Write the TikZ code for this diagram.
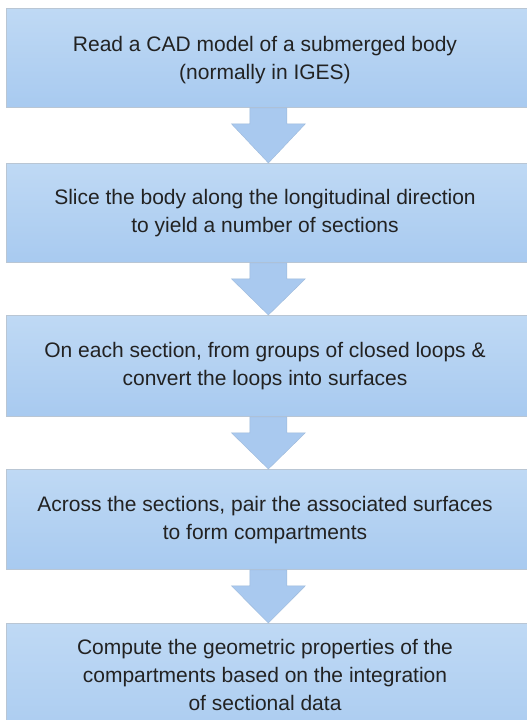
\documentclass[tikz,border=0pt]{standalone}
\usepackage{fontspec}
\setmainfont{Liberation Sans}
\usetikzlibrary{calc}
\definecolor{boxtop}{HTML}{BFD9F4}
\definecolor{boxbot}{HTML}{A8CAF0}
\definecolor{boxline}{HTML}{B9C6D4}
\definecolor{arrowfill}{HTML}{A9C9EF}
\definecolor{arrowline}{HTML}{9DB9DA}
\definecolor{txt}{HTML}{222222}
\tikzset{
  stepbox/.style={rectangle, minimum width=524pt, minimum height=100pt,
    inner sep=0pt, top color=boxtop, bottom color=boxbot, draw=boxline,
    line width=0.8pt, anchor=north west},
  steptext/.style={text=txt, font=\fontsize{21}{28}\selectfont, align=center},
  flowarrow/.style={fill=arrowfill, draw=arrowline, line width=0.4pt, line join=miter}
}
\newcommand{\flowarrow}[2]{%
  \path[flowarrow]
    ($(#1.south)+(-18.5pt,0)$) -- ($(#1.south)+(-18.5pt,-16pt)$)
    -- ($(#1.south)+(-37pt,-16pt)$) -- (#2.north)
    -- ($(#1.south)+(37pt,-16pt)$) -- ($(#1.south)+(18.5pt,-16pt)$)
    -- ($(#1.south)+(18.5pt,0)$) -- cycle;}
\begin{document}
\begin{tikzpicture}[x=1pt,y=-1pt]
  \useasboundingbox (0,0) rectangle (527,720);
  \begin{scope}
    \clip (0,0) rectangle (527,720);
    \node[stepbox, minimum height=99pt] (b1) at (6,8) {};
    \node[stepbox, minimum height=99pt] (b2) at (6,163) {};
    \node[stepbox, minimum height=101pt] (b3) at (6,315) {};
    \node[stepbox, minimum height=100pt] (b4) at (6,469) {};
    \node[stepbox, minimum height=130pt] (b5) at (6,623) {};
    \flowarrow{b1}{b2}
    \flowarrow{b2}{b3}
    \flowarrow{b3}{b4}
    \flowarrow{b4}{b5}
  \end{scope}
  \node[steptext] (t1) at (265,60) {Read a CAD model of a submerged body\\(normally in IGES)};
  \node[steptext] (t2) at (265,213) {Slice the body along the longitudinal direction\\to yield a number of sections};
  \node[steptext] (t3) at (265,366) {On each section, from groups of closed loops \&\\convert the loops into surfaces};
  \node[steptext] (t4) at (265,520) {Across the sections, pair the associated surfaces\\to form compartments};
  \node[steptext] (t5) at (265,675) {Compute the geometric properties of the\\compartments based on the integration\\of sectional data};
\end{tikzpicture}
\end{document}
